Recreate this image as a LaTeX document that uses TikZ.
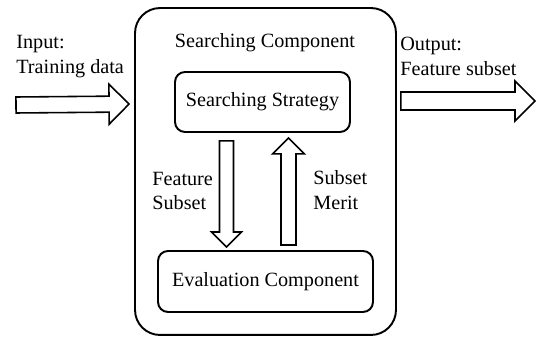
\documentclass[tikz,border=0pt]{standalone}
\usepackage{fontspec}
\setmainfont{Liberation Serif}
\usetikzlibrary{calc,positioning}

% hollow block arrow: from, to, half shaft, half head, head length
\newcommand{\fatarrow}[5]{%
  \coordinate (hb) at ($(#2)!#5!(#1)$);
  \draw[fat] ($(#1)!#3!90:(#2)$) -- ($(hb)!#3!90:(#2)$) -- ($(hb)!#4!90:(#2)$) -- (#2)
    -- ($(hb)!#4!-90:(#2)$) -- ($(hb)!#3!-90:(#2)$) -- ($(#1)!#3!-90:(#2)$) -- cycle;}

\begin{document}
\begin{tikzpicture}[x=0.02cm,y=-0.02cm,
  txt/.style={font=\fontsize{11.5}{14.2}\selectfont},
  lbl/.style={txt,align=left,inner sep=0pt,anchor=west},
  box/.style={draw,line width=1.1pt,rounded corners=0.2cm,fill=white,txt},
  fat/.style={draw,line width=0.9pt,fill=white,line join=miter}]
  \useasboundingbox (0,0) rectangle (538,337);

  % Searching component
  \node[box,rounded corners=0.5cm,minimum width=5.22cm,minimum height=6.54cm] (comp) at (265.5,171.5) {};
  \node[txt,inner sep=0pt] (comptitle) at (265,43) {Searching Component};
  \node[box,minimum width=3.5cm,minimum height=1.2cm] (strat) at (262.5,102) {Searching Strategy};
  \node[box,minimum width=4.3cm,minimum height=1.22cm] (eval) at (265.5,281.5) {Evaluation Component};

  % Inner arrows
  \coordinate (fsstart) at ($(strat.south)+(-36,8)$);
  \coordinate (fsend) at ($(eval.north)+(-39,-3)$);
  \fatarrow{fsstart}{fsend}{0.14cm}{0.3cm}{0.3cm}
  \node[lbl] (fslabel) at (152,191) {Feature\\Subset};

  \coordinate (smstart) at ($(eval.north)+(23,-5)$);
  \coordinate (smend) at ($(strat.south)+(26,5)$);
  \fatarrow{smstart}{smend}{0.15cm}{0.32cm}{0.32cm}
  \node[lbl] (smlabel) at (313,190) {Subset\\Merit};

  % Input / output
  \node[lbl] (inlabel) at (16,57) {Input:\\Training data};
  \coordinate (instart) at (16,105);
  \coordinate (inend) at ($(comp.west)+(-5,-67.5)$);
  \fatarrow{instart}{inend}{0.16cm}{0.4cm}{0.4cm}

  \node[lbl] (outlabel) at (400,56) {Output:\\Feature subset};
  \coordinate (outstart) at ($(comp.east)+(4,-70.5)$);
  \coordinate (outend) at (535,101);
  \fatarrow{outstart}{outend}{0.18cm}{0.4cm}{0.4cm}
\end{tikzpicture}
\end{document}
